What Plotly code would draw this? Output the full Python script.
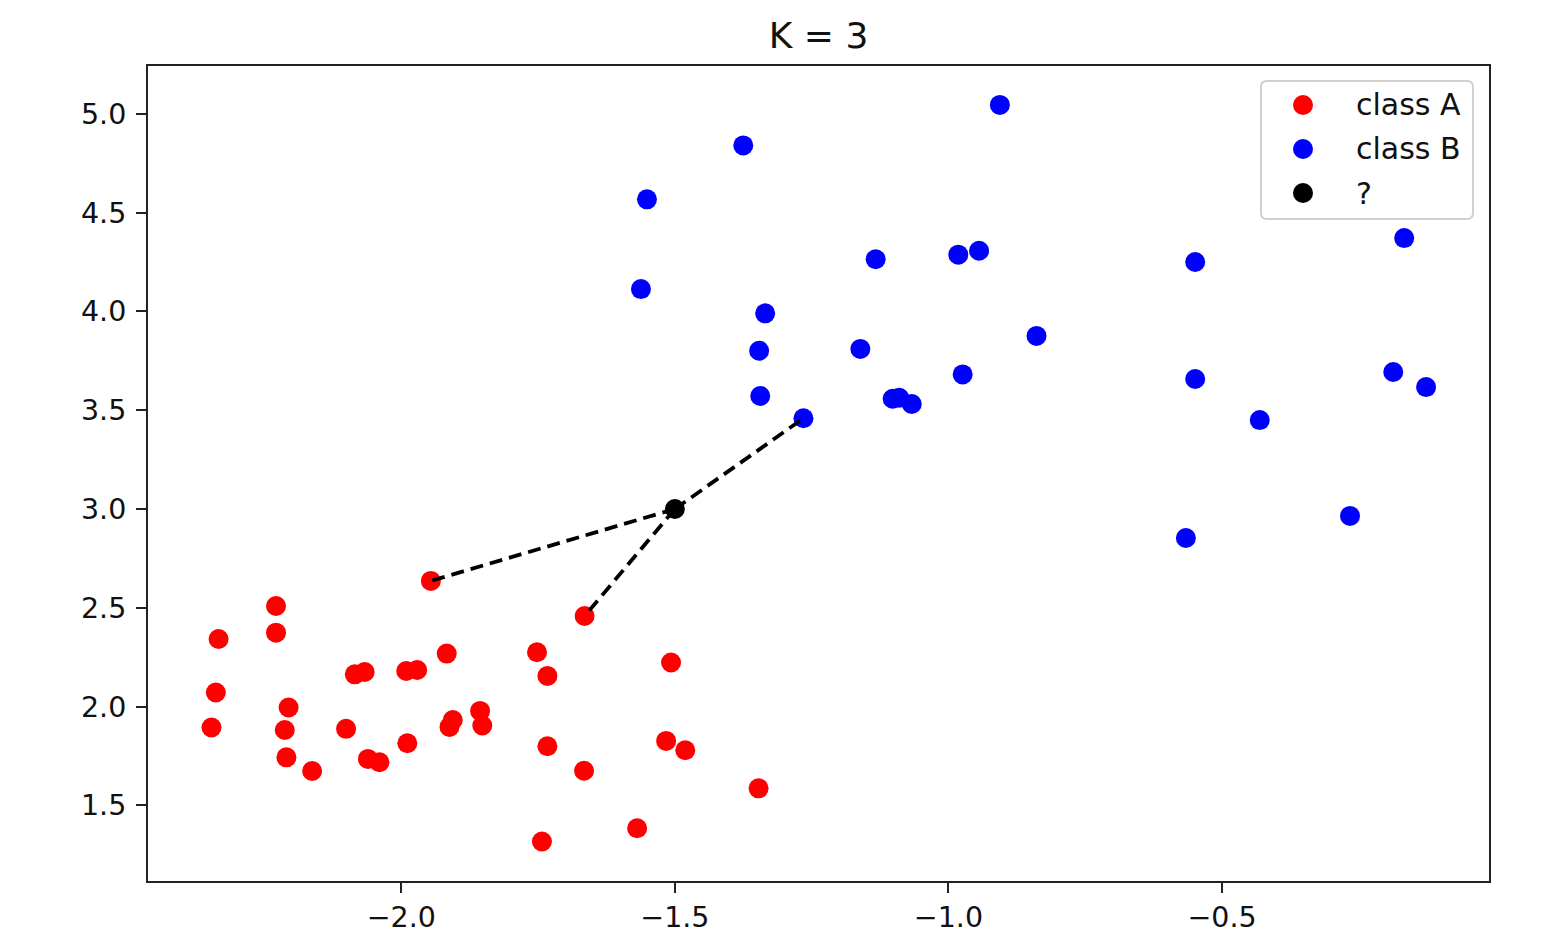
import numpy as np
import plotly.graph_objects as go

# ---- data ----
class_a_x = [-1.946, -1.665, -2.229, -2.229, -2.334, -2.339, -2.347, -2.206, -2.213, -2.210,
             -2.163, -2.085, -2.067, -2.101, -2.061, -2.040, -1.991, -1.971, -1.989, -1.917,
             -1.912, -1.906, -1.856, -1.852, -1.752, -1.733, -1.733, -1.743, -1.666, -1.569,
             -1.507, -1.516, -1.481, -1.347]
class_a_y = [2.636, 2.458, 2.509, 2.374, 2.342, 2.071, 1.894, 1.995, 1.881, 1.743,
             1.674, 2.163, 2.175, 1.887, 1.735, 1.718, 2.180, 2.185, 1.814, 2.268,
             1.897, 1.932, 1.978, 1.904, 2.275, 2.155, 1.799, 1.317, 1.675, 1.384,
             2.223, 1.826, 1.779, 1.586]

class_b_x = [-0.906, -1.375, -1.551, -1.562, -1.335, -1.346, -1.344, -1.265, -1.133, -1.161,
             -1.102, -1.090, -1.067, -0.982, -0.944, -0.974, -0.839, -0.549, -0.549, -0.566,
             -0.431, -0.266, -0.187, -0.167, -0.127]
class_b_y = [5.045, 4.840, 4.567, 4.113, 3.990, 3.801, 3.572, 3.459, 4.264, 3.810,
             3.558, 3.563, 3.531, 4.287, 4.307, 3.681, 3.876, 4.250, 3.658, 2.853,
             3.450, 2.965, 3.693, 4.371, 3.617]

query_x = [-1.5]
query_y = [3.0]
k_neighbors = 3
title_text = "K = 3"
x_ticks = [-2.0, -1.5, -1.0, -0.5]
y_ticks = [1.5, 2.0, 2.5, 3.0, 3.5, 4.0, 4.5, 5.0]
legend_labels = ["class A", "class B", "?"]
legend_colors = ["red", "blue", "black"]

# ---- nearest neighbours ----
all_x = np.array(class_a_x + class_b_x)
all_y = np.array(class_a_y + class_b_y)
d = np.hypot(all_x - query_x[0], all_y - query_y[0])
nn = np.argsort(d)[:k_neighbors]

FONT = "DejaVu Sans"
W, H = 1566, 942
ML, MR, MT, MB = 148, 77, 66, 61
PW, PH = W - ML - MR, H - MT - MB

fig = go.Figure()
fig.add_trace(go.Scatter(x=class_a_x, y=class_a_y, mode="markers", name="class A",
                         marker=dict(color="red", size=20, line=dict(width=0))))
fig.add_trace(go.Scatter(x=class_b_x, y=class_b_y, mode="markers", name="class B",
                         marker=dict(color="blue", size=20, line=dict(width=0))))
fig.add_trace(go.Scatter(x=query_x, y=query_y, mode="markers", name="?",
                         marker=dict(color="black", size=20, line=dict(width=0))))
for i in nn:
    fig.add_trace(go.Scatter(x=[query_x[0], all_x[i]], y=[query_y[0], all_y[i]],
                             mode="lines", showlegend=False, hoverinfo="skip",
                             line=dict(color="black", width=3.8, dash="13px,7px")))

x_lo, x_hi = -2.463, -0.012
y_lo, y_hi = 1.117, 5.242

axis_common = dict(showgrid=False, zeroline=False, showline=True, mirror=True,
                   linecolor="#222222", linewidth=2, ticks="outside", ticklen=10,
                   tickwidth=2, tickcolor="#222222", tickformat=".1f", automargin=False,
                   tickfont=dict(family=FONT, size=28.5, color="#111111"))
fig.update_xaxes(range=[x_lo, x_hi], tickvals=x_ticks, **axis_common)
fig.update_yaxes(range=[y_lo, y_hi], tickvals=y_ticks, ticklabelstandoff=4, **axis_common)


# ---- hand-built legend (matplotlib look) in paper coordinates ----
def px_to_paper_x(px):
    return (px - ML) / PW


def px_to_paper_y(py):
    return (H - MB - py) / PH


bx0, bx1, by0, by1, r = 1261, 1473, 81, 219, 6
X = px_to_paper_x
Y = px_to_paper_y
path = (f"M {X(bx0 + r)} {Y(by0)} L {X(bx1 - r)} {Y(by0)} "
        f"Q {X(bx1)} {Y(by0)} {X(bx1)} {Y(by0 + r)} "
        f"L {X(bx1)} {Y(by1 - r)} Q {X(bx1)} {Y(by1)} {X(bx1 - r)} {Y(by1)} "
        f"L {X(bx0 + r)} {Y(by1)} Q {X(bx0)} {Y(by1)} {X(bx0)} {Y(by1 - r)} "
        f"L {X(bx0)} {Y(by0 + r)} Q {X(bx0)} {Y(by0)} {X(bx0 + r)} {Y(by0)} Z")
shapes = [dict(type="path", path=path, xref="paper", yref="paper",
               fillcolor="rgba(255,255,255,0.9)", line=dict(color="#d0d0d0", width=2),
               layer="above")]
annotations = []
row_y = [105, 149, 193]
for lab, col, ry in zip(legend_labels, legend_colors, row_y):
    shapes.append(dict(type="circle", xref="paper", yref="paper",
                       xsizemode="pixel", ysizemode="pixel",
                       xanchor=X(1303), yanchor=Y(ry),
                       x0=-10, x1=10, y0=-10, y1=10,
                       fillcolor=col, line=dict(width=0), layer="above"))
    annotations.append(dict(text=lab, xref="paper", yref="paper", x=X(1354), y=Y(ry),
                            xanchor="left", yanchor="middle", showarrow=False,
                            font=dict(family=FONT, size=30, color="#111111")))

fig.update_layout(
    width=W, height=H,
    margin=dict(l=ML, r=MR, t=MT, b=MB, autoexpand=False),
    paper_bgcolor="white", plot_bgcolor="white",
    title=dict(text=title_text, x=0.5, xref="paper", y=1 - 35 / H, yref="container",
               yanchor="middle", xanchor="center",
               font=dict(family=FONT, size=36, color="#111111")),
    showlegend=False,
    shapes=shapes,
    annotations=annotations,
)

fig.write_html("out.html")
